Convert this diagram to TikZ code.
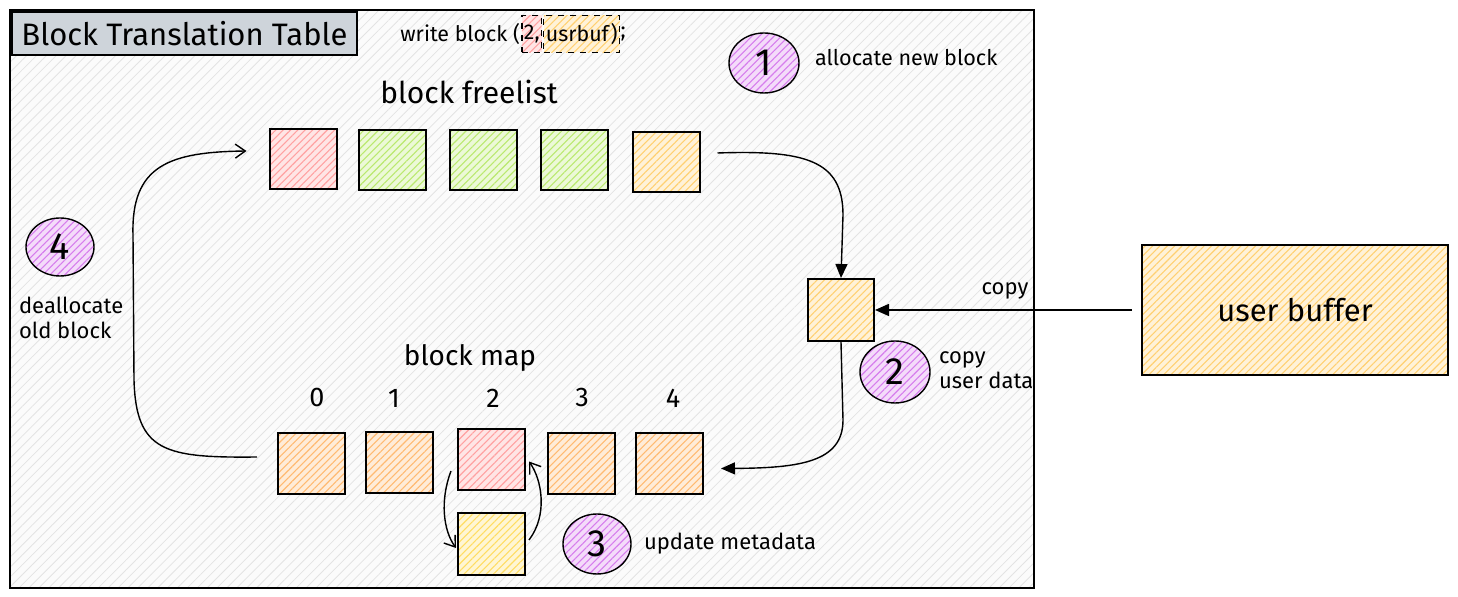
\documentclass[tikz,border=0pt]{standalone}
\usepackage{fontspec}
\setmainfont{Fira Sans}
\usetikzlibrary{arrows.meta,patterns.meta,shapes.geometric}
\definecolor{cred}{HTML}{FF8A8A}
\definecolor{cgreen}{HTML}{A9E34B}
\definecolor{corange}{HTML}{FFA94D}
\definecolor{cyorange}{HTML}{FFC44D}
\definecolor{cyellow}{HTML}{FFD43B}
\definecolor{cpurple}{HTML}{CC5DE8}
\definecolor{ctitle}{HTML}{CED4DA}
\begin{document}
\begin{tikzpicture}[x=0.5pt,y=-0.5pt,
  hatch/.style={preaction={fill=#1!22}, preaction={pattern={Lines[angle=45,distance=2.6pt,line width=0.55pt]}, pattern color=#1!80}},
  hbox/.style={draw=black, line width=1pt, inner sep=0pt, minimum width=33.5pt, minimum height=30pt, hatch=#1},
  numcirc/.style={ellipse, draw=black, line width=0.7pt, inner sep=0pt, minimum width=35pt, minimum height=30pt, hatch=cpurple, font=\fontsize{19}{21}\selectfont},
  dbox/.style={draw=black, dashed, line width=0.6pt, inner sep=1pt, minimum height=18.5pt, hatch=#1},
  lbl/.style={font=\fontsize{11}{12.5}\selectfont, align=left},
  farrow/.style={-{Triangle[length=7pt,width=6pt]}, line width=0.7pt},
  oarrow/.style={-{Straight Barb[length=5pt,width=7pt]}, line width=0.7pt},
]
\useasboundingbox (0,0) rectangle (1458,597);
\fill[white] (0,0) rectangle (1458,597);
% main frame
\draw[line width=1pt, preaction={fill=gray!3}, preaction={pattern={Lines[angle=45,distance=3.5pt,line width=0.4pt]}, pattern color=gray!22}] (10,10) rectangle (1034,588);
% title
\node[draw=black, line width=1pt, fill=ctitle, inner sep=0pt, minimum width=172.5pt, minimum height=21.5pt, font=\fontsize{15.5}{17}\selectfont] (title) at (184.5,33.5) {Block Translation Table};
% write block call
\node[anchor=west, inner sep=0pt, font=\fontsize{10.7}{12}\selectfont] (wr) at (400,34) {write block (};
\node[dbox=cred, anchor=west, font=\fontsize{10.7}{12}\selectfont] (arg1) at ([xshift=0.5pt]wr.east) {2,};
\node[dbox=cyorange, anchor=west, font=\fontsize{10.7}{12}\selectfont] (arg2) at ([xshift=0.5pt]arg1.east) {usrbuf)};
\node[anchor=west, inner sep=0pt, font=\fontsize{10.7}{12}\selectfont] (semi) at (arg2.east) {;};
% step 1
\node[numcirc] (c1) at (764,63) {1};
\node[lbl, anchor=west, font=\fontsize{10.8}{12.5}\selectfont] (t1) at (808,58) {allocate new block};
% freelist
\node[font=\fontsize{15}{17}\selectfont] (fl) at (469,92) {block freelist};
\node[hbox=cred] (f1) at (303,159) {};
\node[hbox=cgreen] (f2) at (392,160) {};
\node[hbox=cgreen] (f3) at (483.5,160) {};
\node[hbox=cgreen] (f4) at (574,160) {};
\node[hbox=cyorange] (f5) at (666,162) {};
% small box and user buffer
\node[hbox=cyorange, minimum height=31pt, minimum width=33pt] (sb) at (841,310) {};
\node[hbox=cyorange, minimum width=153pt, minimum height=65pt, font=\fontsize{15.5}{17}\selectfont] (ub) at (1295,310) {user buffer};
\node[lbl] (tcopy) at (1005,291) {copy};
% step 2
\node[numcirc, minimum height=31pt] (c2) at (895,372) {2};
\node[lbl, anchor=west] (t2) at (932,370) {copy\\user data};
% step 4
\node[numcirc, minimum width=34pt, minimum height=29pt] (c4) at (60,247) {4};
\node[lbl, anchor=west] (t4) at (12,318) {deallocate\\old block};
% block map
\node[font=\fontsize{14}{16}\selectfont] (bm) at (470,358) {block map};
\foreach \i/\x in {0/317,1/394,2/493,3/582,4/673}
  \node[font=\fontsize{13.5}{15}\selectfont] (n\i) at (\x,398) {\i};
\node[hbox=corange, minimum height=30.5pt] (m0) at (311.5,464) {};
\node[hbox=corange, minimum height=30.5pt] (m1) at (399.5,463) {};
\node[hbox=cred, minimum height=30.5pt] (m2) at (491.5,459.5) {};
\node[hbox=corange, minimum height=30.5pt] (m3) at (581,463.5) {};
\node[hbox=corange, minimum height=30.5pt] (m4) at (669.5,463.5) {};
\node[hbox=cyellow, minimum height=31pt] (yb) at (491.5,544) {};
% step 3
\node[numcirc, minimum width=34pt] (c3) at (597,544) {3};
\node[lbl, anchor=west] (t3) at (637,544) {update metadata};
% connectors
\draw[farrow] ([shift={(17,-9)}]f5.east) .. controls (805,150) and (843,160) .. (843,215) -- (sb.north);
\draw[farrow] ([xshift=-4.5pt]ub.west) -- (sb.east);
\draw[farrow] (sb.south) -- (843,420) .. controls (843,462) and (800,468) .. ([shift={(17,5)}]m4.east);
\draw[oarrow] ([shift={(-20,-7)}]m0.west) .. controls (165,458) and (136,452) .. (134,380) -- (133,235) .. controls (131,165) and (170,152) .. ([shift={(-22,-8)}]f1.west);
\draw[oarrow] ([shift={(-6,-20)}]m2.south west) .. controls (440,500) and (443,530) .. ([shift={(-1,4)}]yb.west);
\draw[oarrow] ([shift={(3,-4)}]yb.east) .. controls (548,515) and (542,480) .. ([shift={(3,2)}]m2.east);
\end{tikzpicture}
\end{document}
